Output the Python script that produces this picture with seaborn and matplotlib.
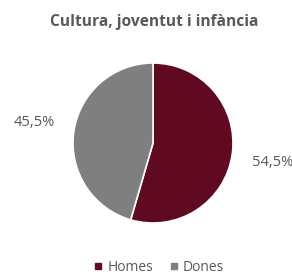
import numpy as np
import pandas as pd
import matplotlib
matplotlib.use("Agg")
import matplotlib.pyplot as plt
import seaborn as sns
from matplotlib.lines import Line2D

# data
categories = ["Homes", "Dones"]
shares = [54.5, 45.5]
share_labels = ["54,5%", "45,5%"]
colors = ["#600a22", "#7f7f7f"]

sns.set_theme(style="white")
plt.rcParams["font.family"] = ["Open Sans", "DejaVu Sans"]

fig = plt.figure(figsize=(2.92, 2.75), dpi=100)
ax = fig.add_axes([0.25, 0.189, 0.548, 0.582])

wedges, _ = ax.pie(shares, colors=colors, startangle=90, counterclock=False,
                   wedgeprops=dict(edgecolor="white", linewidth=1.2))
ax.set_xlim(-1, 1)
ax.set_ylim(-1, 1)

# value labels, placed outside like the original
ax.text(1.49, -0.24, share_labels[0], ha="center", va="center", fontsize=10.5,
        color="#595959", clip_on=False)
ax.text(-1.48, 0.26, share_labels[1], ha="center", va="center", fontsize=10.5,
        color="#595959", clip_on=False)

fig.text(0.528, 0.92, "Cultura, joventut i infància", ha="center", va="center",
         fontsize=11.2, fontweight="bold", color="#595959")

handles = [Line2D([0], [0], marker="s", linestyle="", markersize=5,
                  markerfacecolor=c, markeredgecolor=c) for c in colors]
fig.legend(handles, categories, loc="center", bbox_to_anchor=(0.543, 0.029),
           ncol=2, frameon=False, fontsize=10, handletextpad=0.25,
           handlelength=0.8, columnspacing=1.1, labelcolor="#595959",
           borderpad=0)

fig.savefig("out.png", dpi=100)
